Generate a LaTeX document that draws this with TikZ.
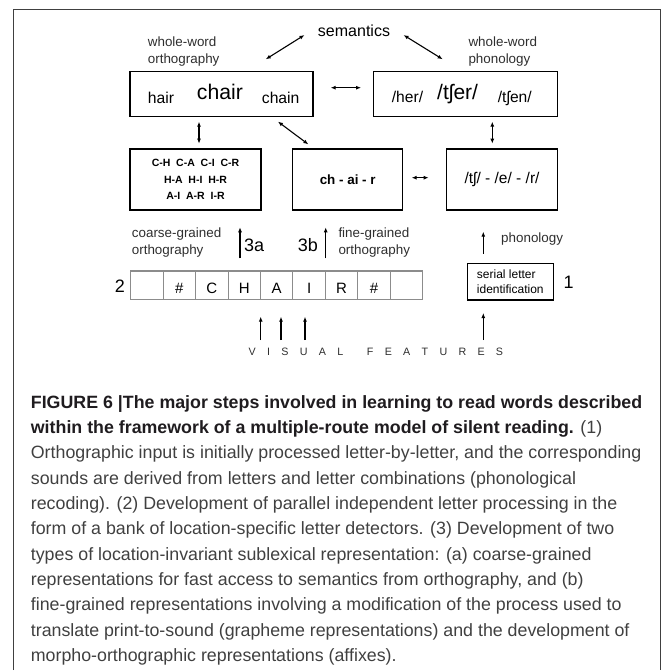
\documentclass[tikz,border=0pt]{standalone}
\usepackage{fontspec}
\setmainfont{Liberation Sans}
\usetikzlibrary{arrows.meta}

\definecolor{framegray}{rgb}{0.25,0.25,0.25}
\definecolor{bankgray}{rgb}{0.55,0.55,0.55}
\definecolor{labelgray}{rgb}{0.18,0.18,0.18}
\definecolor{capbold}{rgb}{0.12,0.11,0.12}
\definecolor{captext}{rgb}{0.25,0.25,0.25}

\newcommand{\vsp}{\hspace{11.3pt}}

\begin{document}
\begin{tikzpicture}[x=1pt, y=1pt,
        box/.style={draw, line width=1.3pt, inner sep=0pt},
        word/.style={inner sep=0pt, anchor=base west},
        lbl/.style={inner sep=0pt, anchor=base west, align=left, text=labelgray, font=\fontsize{13.4}{16.6}\selectfont},
        digit/.style={inner sep=0pt, font=\fontsize{18}{20}\selectfont},
        letter/.style={inner sep=0pt, anchor=base, font=\fontsize{15}{18}\selectfont},
        link/.style={line width=1.1pt, {Latex[length=5pt,width=4pt]}-{Latex[length=5pt,width=4pt]}},
        up/.style={line width=1.1pt, -{Latex[length=5pt,width=4pt]}}]
        \useasboundingbox (0,0) rectangle (671,670);

        \draw[framegray, line width=1pt] (13,0) -- (13,660) -- (660,660) -- (660,0);

        \node[inner sep=0pt, anchor=base, font=\fontsize{16}{19}\selectfont] (sem) at (354,633.3) {semantics};
        \node[lbl] (wwo) at (147.7,606.7) {whole-word\\orthography};
        \node[lbl] (wwp) at (468.3,606.7) {whole-word\\phonology};

        \node[box, minimum width=183pt, minimum height=45pt] (orth) at (221.5,575.8) {};
        \node[word, font=\fontsize{15.7}{18}\selectfont] (hair) at (147.7,566.7) {hair};
        \node[word, font=\fontsize{21.2}{24}\selectfont] (chair) at (196.7,570) {chair};
        \node[word, font=\fontsize{15.7}{18}\selectfont] (chain) at (261.7,566.7) {chain};

        \node[box, minimum width=184pt, minimum height=45pt] (phon) at (465.3,575.8) {};
        \node[word, font=\fontsize{15.6}{18}\selectfont] (her) at (391.7,567) {/her/};
        \node[word, font=\fontsize{21}{24}\selectfont] (tsher) at (437,570) {/tʃer/};
        \node[word, font=\fontsize{15.6}{18}\selectfont] (tshen) at (497.7,567) {/tʃen/};

        \node[box, minimum width=131pt, minimum height=61pt, align=center, font=\bfseries\fontsize{10.5}{16.3}\selectfont] (bigrams) at (195.5,490.5) {C-H\ \ C-A\ \ C-I\ \ C-R\\H-A\ \ H-I\ \ H-R\\A-I\ \ A-R\ \ I-R};
        \node[box, minimum width=110pt, minimum height=61pt, font=\bfseries\fontsize{13.4}{16}\selectfont] (graph) at (347.7,490.5) {ch - ai - r};
        \node[box, minimum width=110.6pt, minimum height=61pt, font=\fontsize{15.5}{18}\selectfont] (phonemes) at (502,490.5) {/tʃ/ - /e/ - /r/};

        \coordinate (semL) at (265.7,610.7);
        \coordinate (semR) at (442.7,610.7);
        \draw[link] (semL) -- ([shift={(-13.3pt,1.7pt)}]sem.base west);
        \draw[link] ([shift={(13.3pt,1.7pt)}]sem.base east) -- (semR);
        \draw[link, shorten <=17pt, shorten >=11.6pt] ([yshift=6.5pt]orth.east) -- ([yshift=6.5pt]phon.west);
        \draw[link, shorten <=4.7pt, shorten >=4.3pt] ([xshift=3.5pt]bigrams.north) -- ([xshift=3.5pt]bigrams.north |- orth.south);
        \draw[link, shorten <=4.7pt, shorten >=4.3pt] ([xshift=-9.7pt]phonemes.north) -- ([xshift=-9.7pt]phonemes.north |- phon.south);
        \draw[link, shorten <=7.1pt, shorten >=6.6pt] ([xshift=-41.4pt]orth.south east) -- ([xshift=21.6pt]graph.north west);
        \draw[link, shorten <=8.3pt, shorten >=17.4pt] ([yshift=1.8pt]graph.east) -- ([yshift=1.8pt]phonemes.west);

        \node[lbl] (coarse) at (131.7,415.7) {coarse-grained\\orthography};
        \node[lbl] (fine) at (338.3,415.7) {fine-grained\\orthography};
        \node[lbl] (phonlbl) at (501,427.3) {phonology};
        \node[digit, anchor=base west] (n3a) at (244,418.3) {3a};
        \node[digit, anchor=base west] (n3b) at (297.7,418.3) {3b};

        \coordinate (a3a) at (240,411.7);
        \coordinate (a3b) at (325.7,411.7);
        \coordinate (aphon) at (483.3,416);
        \draw[up] (a3a) -- ++(0,31);
        \draw[up] (a3b) -- ++(0,31);
        \draw[up] (aphon) -- ++(0,22.3);

        \begin{scope}[shift={(130.7,370.7)}]
                \draw[bankgray, line width=1pt] (0,0) grid[xstep=32.444, ystep=28.3] (292,28.3);
                \draw[bankgray, line width=1pt] (0,0) rectangle (292,28.3);
        \end{scope}
        \node[letter] (c1) at (179.4,376) {\#};
        \node[letter] (c2) at (211.8,376) {C};
        \node[letter] (c3) at (244.3,376) {H};
        \node[letter] (c4) at (276.7,376) {A};
        \node[letter] (c5) at (309.2,376) {I};
        \node[letter] (c6) at (341.6,376) {R};
        \node[letter] (c7) at (374.0,376) {\#};
        \node[digit, anchor=base east] (two) at (125,377.3) {2};

        \node[draw, line width=1.3pt, minimum width=86pt, minimum height=36.7pt, inner sep=0pt, align=left, font=\fontsize{12}{14.4}\selectfont] (serial) at (510.3,388.3) {serial letter\\identification};
        \node[digit, anchor=base west] (one) at (563.3,381.7) {1};

        \coordinate (v1) at (260.7,330);
        \coordinate (v2) at (281,330);
        \coordinate (v3) at (305,330);
        \coordinate (v4) at (483.3,330);
        \draw[up] (v1) -- ++(0,23.3);
        \draw[up] (v2) -- ++(0,23.3);
        \draw[up] (v3) -- ++(0,23.3);
        \draw[up] (v4) -- ++(0,27);
        \node[inner sep=0pt, anchor=base west, text=labelgray, font=\fontsize{10.7}{12}\selectfont] (visual) at (248.5,315) {V\vsp I\vsp S\vsp U\vsp A\vsp L\hspace{23.7pt}F\vsp E\vsp A\vsp T\vsp U\vsp R\vsp E\vsp S};

        \node[inner sep=0pt, anchor=base west, align=left, text=captext, font=\fontsize{17.8}{25.3}\selectfont] (caption) at (30.7,8.7) {\textbf{\color{capbold}FIGURE 6 |The major steps involved in learning to read words described}\\\textbf{\color{capbold}within the framework of a multiple-route model of silent reading.} (1)\\Orthographic input is initially processed letter-by-letter, and the corresponding\\sounds are derived from letters and letter combinations (phonological\\recoding). (2) Development of parallel independent letter processing in the\\form of a bank of location-specific letter detectors. (3) Development of two\\types of location-invariant sublexical representation: (a) coarse-grained\\representations for fast access to semantics from orthography, and (b)\\fine-grained representations involving a modification of the process used to\\translate print-to-sound (grapheme representations) and the development of\\morpho-orthographic representations (affixes).};
\end{tikzpicture}
\end{document}
